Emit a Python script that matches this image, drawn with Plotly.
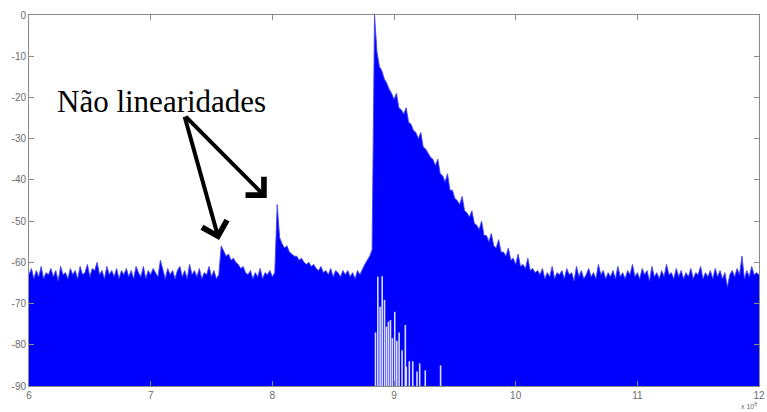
import plotly.graph_objects as go

# ---------------- data ----------------
# spectrum upper envelope (dB), bins every 0.02 (x 1e8)
band_a_start = 6.00
band_a_db = [
    -63, -61.5, -64, -62, -63.5, -61, -64, -62.5, -63, -61.5,
    -63.5, -62, -64.5, -61, -63, -62.5, -64, -61.5, -63, -62,
    -64, -61, -63, -62.5, -60.5, -63.5, -61.5, -62, -60, -63,
    -62, -64, -61, -63, -62, -63.5, -61.5, -64, -62, -63,
    -61.5, -63.5, -62, -64, -61, -62.5, -63.5, -61, -64, -62,
    -63, -61.5, -62.5, -63.5, -59.5, -62, -64, -61.5, -63, -62,
    -64, -62, -61, -63.5, -62, -64, -60.5, -63, -62, -63.5,
    -61.5, -64, -62.5, -63, -61, -63.5, -62, -64, -63, -56,
    -57.5, -58.5, -58, -59.5, -59, -60, -60.5, -61.5, -61, -62.5,
    -63, -62, -64, -62.5, -63.5, -61.5, -64, -62.5, -63, -62,
]
band_b_start = 8.00
band_b_db = [
    -63.5, -62.5, -46, -54, -55.5, -56.5, -56, -57.5, -58, -58.5,
    -58.5, -59.5, -59, -60, -60.5, -60, -61, -60.5, -61.5, -62,
    -61, -62.5, -62, -63, -61.5, -63.5, -62, -62.5, -63.5, -62,
    -63, -62, -63.5, -62.5, -64, -62, -63, -61.5, -60.5, -59.5,
    -58.5, -57, 0, -9, -12.5, -13.5, -15.5, -16.5, -18, -19,
    -20.5, -19, -22.5, -23, -24, -22.5, -26, -26.5, -28, -28.5,
    -30, -28.5, -32, -32.5, -33.5, -34.5, -35, -36.5, -35, -38.5,
    -39, -40.5, -38.5, -42.5, -42.5, -44.5, -45, -46, -44, -47.5,
    -48, -49, -47.5, -50.5, -51, -52, -50, -53.5, -53.5, -55,
    -53, -56, -56.5, -54.5, -57.5, -57.5, -58.5, -56.5, -59.5, -59,
]
band_c_start = 10.00
band_c_db = [
    -60.5, -58, -61, -60.5, -61.5, -59, -62, -61.5, -62.5, -62,
    -63, -61.5, -64, -62.5, -63.5, -61, -64, -62.5, -63, -62,
    -64, -61.5, -63, -62.5, -64.5, -61, -63.5, -62, -64, -63,
    -61.5, -63.5, -62.5, -64, -60.5, -63, -62, -64, -62.5, -63.5,
    -62, -64, -61, -63.5, -62.5, -64, -62, -63, -60.5, -63.5,
    -62.5, -64, -61.5, -63, -62, -64.5, -61, -63.5, -62.5, -64,
    -62, -63.5, -60.5, -63, -62.5, -64, -61.5, -63.5, -62, -64,
    -62.5, -63.5, -61.5, -64, -62.5, -63, -61, -64, -62.5, -63.5,
    -62, -64, -61.5, -63.5, -62, -64, -62.5, -66, -63, -62,
    -63.5, -61.5, -63, -58.5, -64, -62, -63.5, -61, -63, -62.5,
    -63,
]
bin_step = 0.02

# deep-null gaps under the carrier (frequency, level of the gap top in dB)
gap_freq = [8.848, 8.867, 8.886, 8.903, 8.922, 8.938, 8.954, 8.971, 8.987, 9.006,
            9.023, 9.042, 9.066, 9.093, 9.101, 9.126, 9.154, 9.189, 9.211, 9.257, 9.383]
gap_top_db = [-77, -63.5, -70.8, -63.4, -69.1, -75.6, -74.4, -74, -78.4, -72,
              -79, -77, -81.3, -75.2, -85.3, -84, -84, -86.5, -84.5, -86.2, -85]

x_ticks = [6, 7, 8, 9, 10, 11, 12]
x_tick_text = ["6", "7", "8", "9", "10", "11", "12"]
y_ticks = [0, -10, -20, -30, -40, -50, -60, -70, -80, -90]
y_tick_text = ["0", "-10", "-20", "-30", "-40", "-50", "-60", "-70", "-80", "-90"]

floor_db = -90
label_text = "Não linearidades"
label_pos = (7.085, -20.9)
arrow_start = (7.276, -24.3)
arrow_tips = [(7.562, -54.6), (7.954, -44.4)]

# ---------------- build ----------------
freq = []
level = []
for start, vals in ((band_a_start, band_a_db), (band_b_start, band_b_db), (band_c_start, band_c_db)):
    for i, v in enumerate(vals):
        freq.append(round(start + i * bin_step, 4))
        level.append(v)

gap_x, gap_y = [], []
for f, t in zip(gap_freq, gap_top_db):
    gap_x += [f, f, None]
    gap_y += [floor_db, t, None]

fig = go.Figure()
fig.add_trace(go.Scatter(
    x=freq, y=[floor_db] * len(freq), mode="lines",
    line=dict(width=0, color="#0000ff"), hoverinfo="skip", showlegend=False))
fig.add_trace(go.Scatter(
    x=freq, y=level, mode="lines", fill="tonexty", fillcolor="#0000ff",
    line=dict(width=1, color="rgba(70,70,240,0.9)"), hoverinfo="skip", showlegend=False))
fig.add_trace(go.Scatter(
    x=gap_x, y=gap_y, mode="lines",
    line=dict(width=1.6, color="rgba(228,232,250,0.95)"),
    hoverinfo="skip", showlegend=False, connectgaps=False))

axis_common = dict(
    showgrid=False, zeroline=False, showline=True, linecolor="#8a8a8a", linewidth=1,
    mirror="ticks", ticks="inside", ticklen=5, tickcolor="#8a8a8a",
    tickfont=dict(family="Liberation Sans, Arial, sans-serif", size=10, color="#6b6b6b"),
    ticklabeloverflow="allow",
)
fig.update_xaxes(range=[6, 12], tickvals=x_ticks, ticktext=x_tick_text, **axis_common)
fig.update_yaxes(range=[-90, 0], tickvals=y_ticks, ticktext=y_tick_text, **axis_common)

fig.add_annotation(
    x=label_pos[0], y=label_pos[1], xref="x", yref="y", text=label_text,
    showarrow=False, font=dict(family="Liberation Serif, Times New Roman, serif", size=31, color="#000000"),
    xanchor="center", yanchor="middle")
for tx, ty in arrow_tips:
    fig.add_annotation(
        x=tx, y=ty, xref="x", yref="y", ax=arrow_start[0], ay=arrow_start[1],
        axref="x", ayref="y", text="", showarrow=True, arrowhead=4, arrowsize=1.25,
        arrowwidth=4, arrowcolor="#000000")
fig.add_annotation(
    x=0.972, y=-0.054, xref="paper", yref="paper", text="x 10<sup>8</sup>",
    showarrow=False, xanchor="left", yanchor="middle",
    font=dict(family="Liberation Sans, Arial, sans-serif", size=7, color="#6b6b6b"))

fig.update_layout(
    width=767, height=412, margin=dict(l=29, r=2, t=15, b=26),
    paper_bgcolor="white", plot_bgcolor="white",
    showlegend=False)

fig.write_html("out.html")
